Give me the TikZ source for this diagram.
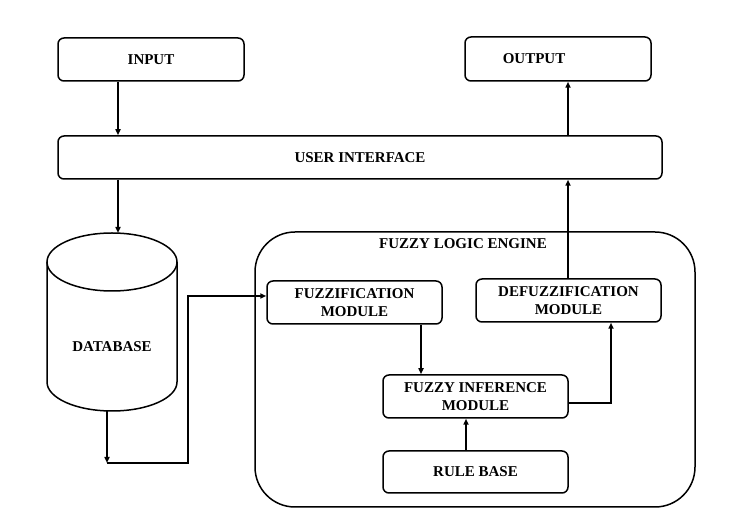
\documentclass[tikz,border=0pt]{standalone}
\usepackage{fontspec}
\setmainfont{Liberation Serif}
\usetikzlibrary{arrows.meta}
\begin{document}
\begin{tikzpicture}[x=1pt,y=-1pt,line width=1.5pt,
  lbl/.style={font=\fontsize{15}{18}\selectfont\bfseries},
  box/.style={draw, rounded corners=6pt, inner sep=0pt, align=center, lbl},
  arr/.style={-{Triangle[length=6pt,width=5pt]}}]
\useasboundingbox (0,0) rectangle (748,510);

% outer engine frame
\node[draw, rounded corners=40pt, minimum width=440pt, minimum height=275pt] (eng) at (475,369.5) {};
\node[lbl] (englbl) at (463,244) {FUZZY LOGIC ENGINE};

% top row
\node[box, minimum width=186pt, minimum height=43pt] (in) at (151,59.5) {INPUT};
\node[box, minimum width=186pt, minimum height=44pt,
      label={[lbl,xshift=-24pt]center:OUTPUT}] (out) at (558,59) {};
\node[box, minimum width=604pt, minimum height=43pt] (ui) at (360,157.5) {USER INTERFACE};

% engine modules
\node[box, minimum width=175pt, minimum height=43pt] (fz) at (354.5,302.5) {FUZZIFICATION\\MODULE};
\node[box, minimum width=185pt, minimum height=43pt] (dfz) at (568.5,300.5) {DEFUZZIFICATION\\MODULE};
\node[box, minimum width=185pt, minimum height=43pt] (inf) at (475.5,396.5) {FUZZY INFERENCE\\MODULE};
\node[box, minimum width=185pt, minimum height=42pt] (rb) at (475.5,472) {RULE BASE};

% database cylinder
\draw (112,262) ellipse [x radius=65pt, y radius=29pt];
\draw (47,262) -- (47,382) arc[start angle=180, end angle=360, x radius=65pt, y radius=29pt] -- (177,262);
\node[lbl] (db) at (112,347) {DATABASE};
\coordinate (dbtop) at (118,233);
\coordinate (dbbot) at (107,411);

% guide coordinates for connectors
\coordinate (c1) at (118,0);
\coordinate (c2) at (568,0);
\coordinate (c3) at (107,463);
\coordinate (c4) at (188,463);
\coordinate (c5) at (188,296);
\coordinate (c6) at (421,0);
\coordinate (c7) at (611,403);
\coordinate (c8) at (466,0);

% connectors
\draw[arr] (in.south -| c1) -- (ui.north -| c1);
\draw[arr] (ui.south -| c1) -- (dbtop);
\draw[arr] (ui.north -| c2) -- (out.south -| c2);
\draw[arr] (dfz.north -| c2) -- (ui.south -| c2);
\draw[arr] (dbbot) -- (c3);
\draw[arr] (c3) -- (c4) -- (c5) -- (fz.west |- c5);
\draw[arr] (fz.south -| c6) -- (inf.north -| c6);
\draw[arr] (inf.east |- c7) -- (c7) -- (dfz.south -| c7);
\draw[arr] (rb.north -| c8) -- (inf.south -| c8);
\end{tikzpicture}
\end{document}
